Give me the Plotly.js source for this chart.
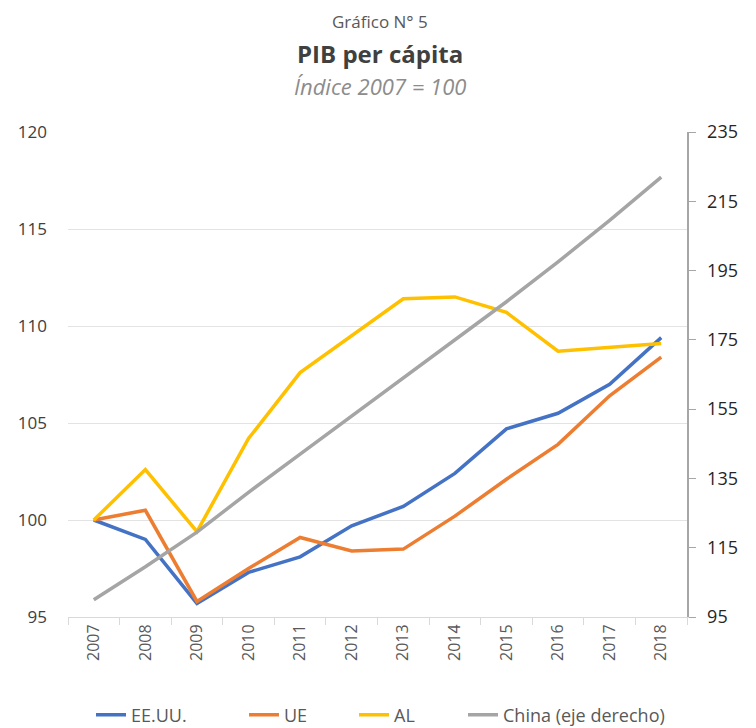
<!DOCTYPE html>
<html>
<head>
<meta charset="utf-8">
<script src="https://cdn.plot.ly/plotly-3.0.1.min.js"></script>
<style>body{margin:0;background:#fff}#chart{width:756px;height:728px}</style>
</head>
<body>
<div id="chart"></div>
<script>
const years = ["2007","2008","2009","2010","2011","2012","2013","2014","2015","2016","2017","2018"];
const eeuu  = [100, 99.0, 95.7, 97.3, 98.1, 99.7, 100.7, 102.4, 104.7, 105.5, 107.0, 109.4];
const ue    = [100, 100.5, 95.8, 97.5, 99.1, 98.4, 98.5, 100.2, 102.1, 103.9, 106.4, 108.4];
const al    = [100, 102.6, 99.4, 104.2, 107.6, 109.5, 111.4, 111.5, 110.7, 108.7, 108.9, 109.1];
const china = [100, 109.5, 119.5, 131, 142, 153, 164, 175, 186, 197.5, 209.5, 222];
const names = ["EE.UU.", "UE", "AL", "China (eje derecho)"];
const colors = ["#4472C4", "#ED7D31", "#FFC000", "#A5A5A5"];

const font = "Open Sans, Noto Sans, sans-serif";
const legendIds = ["legend", "legend2", "legend3", "legend4"];
const mk = (y, i, axis) => ({
  x: years, y: y, name: names[i], type: "scatter", mode: "lines",
  yaxis: axis, line: {color: colors[i], width: 3.5}, legend: legendIds[i]
});
const traces = [mk(eeuu,0,"y"), mk(ue,1,"y"), mk(al,2,"y"), mk(china,3,"y2")];

const W = 619, H = 485, L = 68, T = 132;
const legX = [91, 244, 354, 463];
const mkLegend = (px) => ({
  orientation: "h", x: (px - L) / W, xanchor: "left",
  yref: "container", y: (728 - 715) / 728, yanchor: "middle",
  font: {size: 18, color: "#595959", family: font}, bgcolor: "rgba(0,0,0,0)"
});

const layout = {
  width: 756, height: 728,
  margin: {l: L, r: 756 - L - W, t: T, b: 728 - T - H, autoexpand: false},
  paper_bgcolor: "#fff", plot_bgcolor: "#fff",
  font: {family: font, color: "#404040", size: 15},
  showlegend: true,
  legend: mkLegend(legX[0]),
  legend2: mkLegend(legX[1]),
  legend3: mkLegend(legX[2]),
  legend4: mkLegend(legX[3]),
  xaxis: {type: "category", range: [-0.5, 11.5], tickangle: -90, showgrid: false, showline: true,
          linecolor: "#d9d9d9", linewidth: 1, ticks: "outside", tickson: "boundaries",
          ticklen: 7, tickcolor: "#d9d9d9", tickfont: {size: 16, color: "#595959"},
          zeroline: false, automargin: false},
  yaxis: {range: [95, 120], dtick: 5, showgrid: true, gridcolor: "#e3e3e3", gridwidth: 1,
          showline: false, zeroline: false, ticks: "", ticklabelstandoff: 20, automargin: false,
          tickfont: {size: 17, color: "#404040"}},
  yaxis2: {range: [95, 235], tick0: 95, dtick: 20, overlaying: "y", side: "right", showgrid: false,
           showline: true, linecolor: "#a6a6a6", linewidth: 1.5, ticks: "outside",
           ticklen: 7, tickcolor: "#a6a6a6", zeroline: false, ticklabelstandoff: 8, automargin: false,
           tickfont: {size: 18, color: "#262626"}},
  annotations: [
    {text: "Gráfico N° 5", xref: "paper", yref: "paper", x: 0.504, y: 1 + (T - 22) / H, yanchor: "middle",
     showarrow: false, font: {size: 17, color: "#595959", family: font}},
    {text: "<b>PIB per cápita</b>", xref: "paper", yref: "paper", x: 0.504, y: 1 + (T - 54) / H, yanchor: "middle",
     showarrow: false, font: {size: 24, color: "#404040", family: font}},
    {text: "<i>Índice 2007 = 100</i>", xref: "paper", yref: "paper", x: 0.504, y: 1 + (T - 86) / H, yanchor: "middle",
     showarrow: false, font: {size: 22, color: "#8c8c8c", family: font}}
  ]
};
Plotly.newPlot("chart", traces, layout, {displayModeBar: false, staticPlot: true});
</script>
</body>
</html>
